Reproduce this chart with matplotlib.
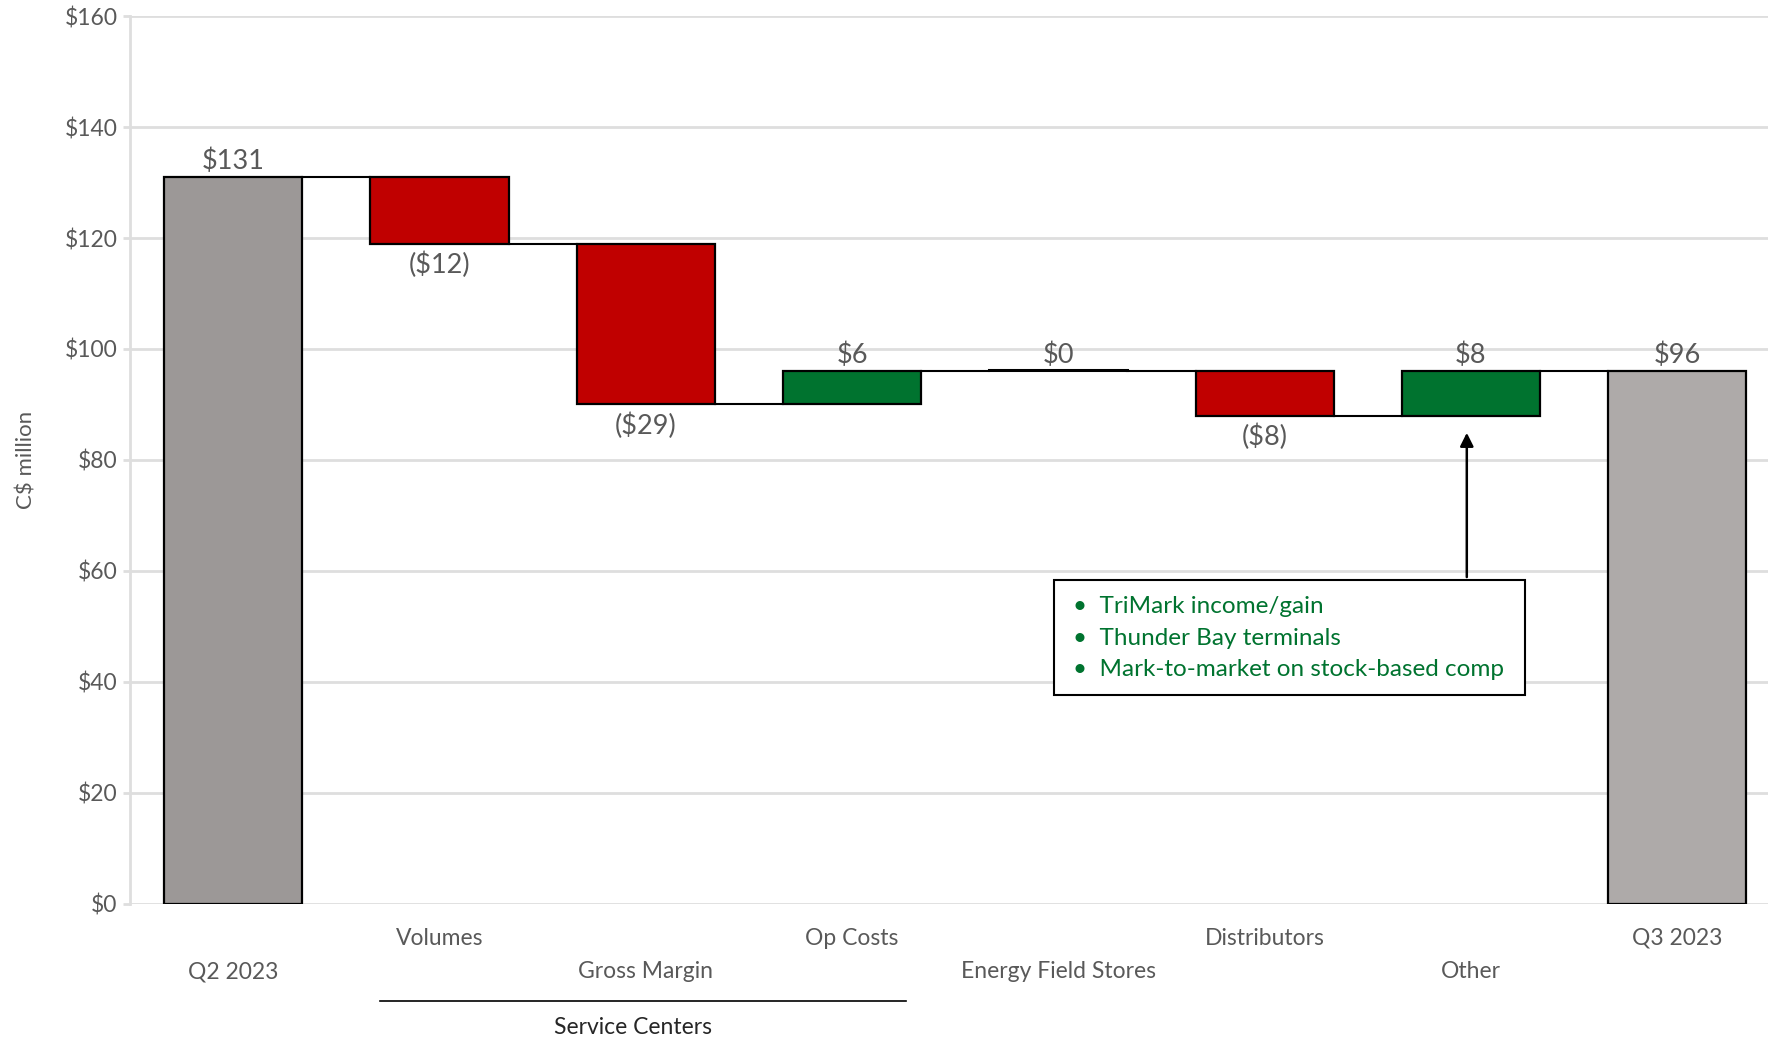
import numpy as np
import matplotlib
matplotlib.use("Agg")
import matplotlib.pyplot as plt
from matplotlib.transforms import blended_transform_factory

plt.rcParams['font.family'] = ['Lato', 'DejaVu Sans']

categories = ["Q2 2023", "Volumes", "Gross Margin", "Op Costs",
              "Energy Field Stores", "Distributors", "Other", "Q3 2023"]
changes = [131, -12, -29, 6, 0, -8, 8, 96]
is_total = [True, False, False, False, False, False, False, True]
value_labels = ["$131", "($12)", "($29)", "$6", "$0", "($8)", "$8", "$96"]
label_row = [2, 1, 2, 1, 2, 1, 2, 1]
yticks = [0, 20, 40, 60, 80, 100, 120, 140, 160]
note_lines = ["TriMark income/gain", "Thunder Bay terminals",
              "Mark-to-market on stock-based comp"]

GREY_L = "#9c9897"
GREY_R = "#aeaaa9"
RED = "#c00000"
GREEN = "#00732f"
TXT = "#595959"
GRID = "#dedede"

fig = plt.figure(figsize=(17.68, 10.4), dpi=100)
ax = fig.add_axes([0.0735, 0.1308, 0.9265, 0.8538])

x = np.arange(len(categories))
w = 0.67

# running levels for the waterfall
bottoms, tops = [], []
level = 0
for c, tot in zip(changes, is_total):
    if tot:
        bottoms.append(0)
        tops.append(c)
        level = c
    else:
        new = level + c
        bottoms.append(min(level, new))
        tops.append(max(level, new))
        level = new

for i, (c, tot) in enumerate(zip(changes, is_total)):
    if tot:
        col = GREY_L if i == 0 else GREY_R
    else:
        col = RED if c < 0 else GREEN
    h = tops[i] - bottoms[i]
    if h == 0:
        ax.plot([x[i] - w / 2, x[i] + w / 2], [tops[i] + 0.3, tops[i] + 0.3],
                color="black", lw=2.2, zorder=3)
    else:
        ax.bar(x[i], h, bottom=bottoms[i], width=w, color=col,
               edgecolor="black", linewidth=1.6, zorder=3)

# connectors
level = 0
ends = []
for c, tot in zip(changes, is_total):
    level = c if tot else level + c
    ends.append(level)
for i in range(len(categories) - 1):
    ax.plot([x[i] + w / 2, x[i + 1] - w / 2], [ends[i], ends[i]],
            color="black", lw=1.5, zorder=2)

# value labels
for i, c in enumerate(changes):
    if c >= 0:
        ax.annotate(value_labels[i], (x[i], tops[i]), xytext=(0, 2),
                    textcoords="offset points", ha="center", va="bottom",
                    fontsize=19.5, color=TXT)
    else:
        ax.annotate(value_labels[i], (x[i], bottoms[i]), xytext=(0, -6),
                    textcoords="offset points", ha="center", va="top",
                    fontsize=19.5, color=TXT)

ax.set_xlim(-0.5, 7.44)
ax.set_ylim(0, 160)
ax.set_yticks(yticks)
ax.set_yticklabels(["${}".format(v) for v in yticks], fontsize=16.5, color=TXT)
ax.set_xticks([])
ax.grid(axis="y", color=GRID, lw=2, zorder=0)
ax.set_axisbelow(True)
for s in ["top", "right", "bottom"]:
    ax.spines[s].set_visible(False)
ax.spines["left"].set_color(GRID)
ax.spines["left"].set_linewidth(2)
ax.tick_params(axis="y", length=5, width=2, color=GRID, pad=4)
ax.set_ylabel("C$ million", fontsize=16, color=TXT, labelpad=20)

# category labels in two staggered rows
tr = blended_transform_factory(ax.transData, fig.transFigure)
row_y = {1: 0.098, 2: 0.0654}
for i, cat in enumerate(categories):
    ax.text(x[i], row_y[label_row[i]], cat, transform=tr, ha="center",
            va="center", fontsize=16.5, color=TXT, clip_on=False)
ax.plot([0.71, 3.26], [0.0375, 0.0375], color="black", lw=1.2,
        transform=tr, clip_on=False)
ax.text(1.94, 0.0125, "Service Centers", transform=tr, ha="center",
        va="center", fontsize=16.5, color="#262626", clip_on=False)

# callout box and arrow
ax.add_patch(plt.Rectangle((3.98, 37.7), 2.28, 20.7, facecolor="white",
                           edgecolor="black", lw=1.5, zorder=4))
for k, line in enumerate(note_lines):
    ax.text(4.07, 53.6 - k * 5.7, "\u2022  " + line, fontsize=17.5,
            color=GREEN, va="center", ha="left", zorder=5)
ax.annotate("", xy=(5.98, 85.4), xytext=(5.98, 58.4),
            arrowprops=dict(arrowstyle="-|>", color="black", lw=1.8,
                            mutation_scale=20), zorder=5)

fig.savefig("out.png", dpi=100)
